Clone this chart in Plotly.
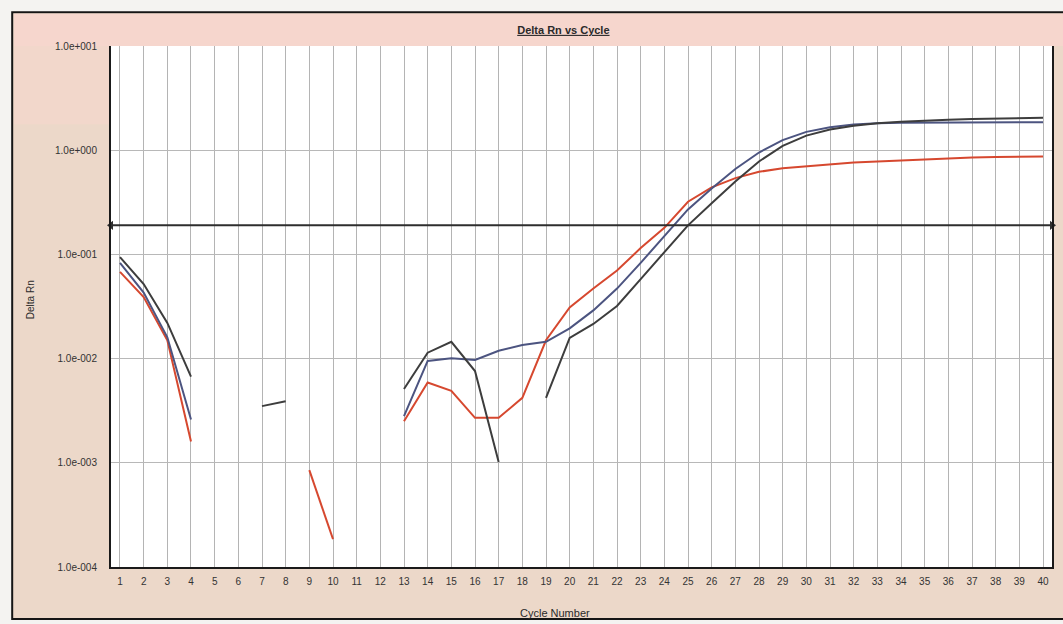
import plotly.graph_objects as go

# Amplification plot: Delta Rn per PCR cycle (log scale)
cycles = list(range(1, 41))

# None = no positive signal on that cycle (not drawn on log axis)
delta_rn_red = [
    0.068, 0.039, 0.015, 0.0016, None, None, None, None, 0.00085, 0.000185,
    None, None, 0.0025, 0.0059, 0.0049, 0.0027, 0.0027, 0.0042, 0.015, 0.031,
    0.047, 0.070, 0.115, 0.180, 0.32, 0.44, 0.54, 0.62, 0.67, 0.70,
    0.73, 0.76, 0.78, 0.80, 0.82, 0.84, 0.85, 0.86, 0.87, 0.87,
]
delta_rn_dark = [
    0.094, 0.052, 0.022, 0.0067, None, None, 0.0035, 0.0039, None, None,
    None, None, 0.0051, 0.0114, 0.0145, 0.0076, 0.00102, None, 0.0042, 0.0158,
    0.0215, 0.032, 0.058, 0.105, 0.19, 0.31, 0.50, 0.78, 1.10, 1.38,
    1.58, 1.72, 1.81, 1.87, 1.92, 1.96, 1.99, 2.02, 2.04, 2.05,
]
delta_rn_slate = [
    0.083, 0.043, 0.016, 0.0026, None, None, None, None, None, None,
    None, None, 0.0028, 0.0095, 0.0101, 0.0097, 0.0119, 0.0135, 0.0145, 0.0195,
    0.029, 0.047, 0.083, 0.150, 0.27, 0.43, 0.66, 0.95, 1.25, 1.50,
    1.66, 1.76, 1.81, 1.83, 1.84, 1.84, 1.84, 1.85, 1.85, 1.85,
]

threshold = 0.19

x_tick_labels = [str(c) for c in cycles]
y_tick_values = [1e-4, 1e-3, 1e-2, 1e-1, 1e0, 1e1]
y_tick_labels = ["1.0e-004", "1.0e-003", "1.0e-002", "1.0e-001", "1.0e+000", "1.0e+001"]

X_MIN, X_MAX = 0.62, 40.38

fig = go.Figure()

series = [
    (delta_rn_red, "#d6482f"),
    (delta_rn_slate, "#4c5480"),
    (delta_rn_dark, "#3d3d3d"),
]
for values, color in series:
    fig.add_trace(go.Scatter(
        x=cycles, y=values, mode="lines", connectgaps=False,
        line=dict(color=color, width=2), showlegend=False, hoverinfo="skip",
    ))

# Threshold line with arrow heads at both ends
fig.add_trace(go.Scatter(
    x=[X_MIN, X_MAX], y=[threshold, threshold], mode="lines+markers",
    line=dict(color="#2e2e2e", width=2),
    marker=dict(symbol=["triangle-left", "triangle-right"], size=8, color="#2e2e2e"),
    cliponaxis=False, showlegend=False, hoverinfo="skip",
))

# Outer frame and its tinted background
fig.add_shape(type="rect", xref="paper", yref="paper",
              x0=-0.105, x1=1.03, y0=-0.0998, y1=1.065,
              fillcolor="#ecd8c9", line=dict(color="#151515", width=2), layer="below")
fig.add_shape(type="rect", xref="paper", yref="paper",
              x0=-0.103, x1=1.03, y0=1.0, y1=1.062,
              fillcolor="#f6d6cd", line=dict(width=0), layer="below")
fig.add_shape(type="rect", xref="paper", yref="paper",
              x0=-0.103, x1=0, y0=0.85, y1=1.0,
              fillcolor="#f2d7cb", line=dict(width=0), layer="below")
fig.add_shape(type="rect", xref="paper", yref="paper",
              x0=0, x1=1, y0=0, y1=1,
              fillcolor="white", line=dict(width=0), layer="below")

font_family = "Liberation Sans, Arial, sans-serif"

fig.update_layout(
    width=1063, height=624, autosize=False,
    margin=dict(l=111, r=9, t=46, b=57),
    paper_bgcolor="#f4f3f1",
    plot_bgcolor="rgba(0,0,0,0)",
    font=dict(family=font_family, size=10, color="#2a2a2a"),
    title=dict(text="<u><b>Delta Rn vs Cycle</b></u>", x=0.53, xanchor="center",
               y=1 - 30 / 624, yanchor="middle", font=dict(size=11, color="#2a2a2a")),
    xaxis=dict(
        range=[X_MIN, X_MAX], tickmode="array", tickvals=cycles, ticktext=x_tick_labels,
        showgrid=True, gridcolor="#b4b4b4", gridwidth=1, zeroline=False,
        showline=True, linecolor="#1a1a1a", linewidth=2, mirror=False,
        ticks="", ticklabelstandoff=4, tickfont=dict(size=10, color="#333333"),
    ),
    yaxis=dict(
        type="log", range=[-4, 1], tickmode="array", tickvals=y_tick_values,
        ticktext=y_tick_labels, showgrid=True, gridcolor="#b8b8b8", gridwidth=1,
        zeroline=False, showline=True, linecolor="#1a1a1a", linewidth=2, mirror=True,
        ticks="", ticklabelstandoff=10, tickfont=dict(size=10, color="#333333"),
    ),
    annotations=[
        dict(text="Cycle Number", xref="paper", yref="paper",
             x=(556 - 111) / 943, y=-(613 - 567) / 521, xanchor="center", yanchor="middle",
             showarrow=False, font=dict(size=11, color="#2a2a2a")),
        dict(text="Delta Rn", xref="paper", yref="paper",
             x=-(111 - 30) / 943, y=(567 - 300) / 521, xanchor="center", yanchor="middle",
             textangle=-90, showarrow=False, font=dict(size=10, color="#2a2a2a")),
    ],
)

fig.write_html("out.html")
